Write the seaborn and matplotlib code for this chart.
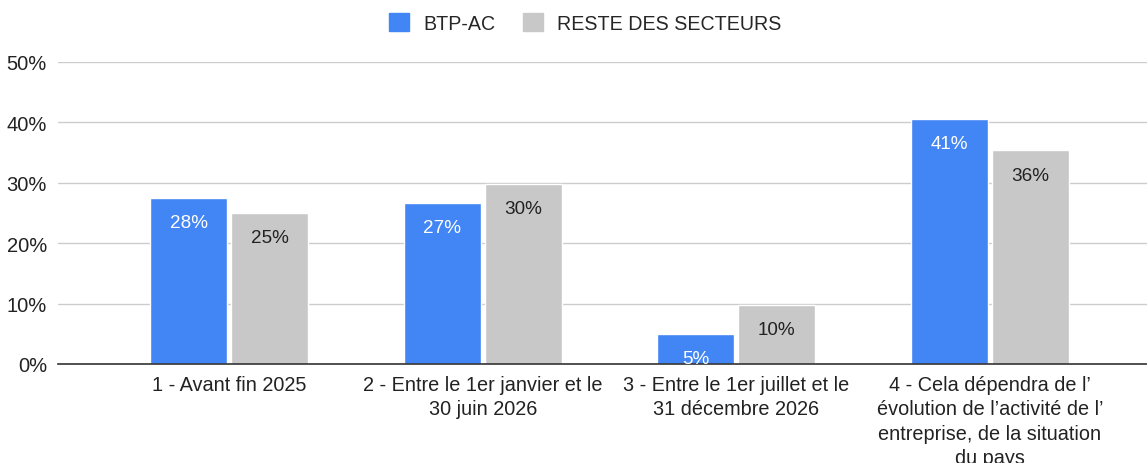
import pandas as pd
import matplotlib.pyplot as plt
import seaborn as sns

# DATA
categories = [
    "1 - Avant fin 2025",
    "2 - Entre le 1er janvier et le\n30 juin 2026",
    "3 - Entre le 1er juillet et le\n31 décembre 2026",
    "4 - Cela dépendra de l\u2019\névolution de l\u2019activité de l\u2019\nentreprise, de la situation\ndu pays",
]
series = ["BTP-AC", "RESTE DES SECTEURS"]
btp_values = [27.5, 26.7, 5.0, 40.6]
reste_values = [25.0, 29.8, 9.8, 35.4]
btp_labels = ["28%", "27%", "5%", "41%"]
reste_labels = ["25%", "30%", "10%", "36%"]
yticks = [0, 10, 20, 30, 40, 50]

df = pd.DataFrame({
    "cat": categories * 2,
    "serie": [series[0]] * 4 + [series[1]] * 4,
    "val": btp_values + reste_values,
})

sns.set_style("white")
plt.rcParams['font.family'] = ['Liberation Sans', 'DejaVu Sans']

fig = plt.figure(figsize=(11.47, 4.64), dpi=100)
ax = fig.add_axes([58 / 1147, 1 - 365 / 464, 1 - 58 / 1147, 302 / 464])

palette = {series[0]: "#4285F4", series[1]: "#C8C8C8"}
sns.barplot(data=df, x="cat", y="val", hue="serie", palette=palette,
            width=0.64, gap=0.05, ax=ax, legend=False, saturation=1)

ax.set_ylim(0, 50)
ax.set_xlim(-0.675, 3.62)
ax.set_yticks(yticks)
ax.set_yticklabels([f"{t}%" for t in yticks], fontsize=14.5, color="#222222")
ax.tick_params(axis="x", labelsize=14.3, colors="#222222", length=0, pad=8)
ax.tick_params(axis="y", length=0, pad=8)
for lab in ax.get_xticklabels():
    lab.set_linespacing(1.35)
ax.set_xlabel("")
ax.set_ylabel("")
ax.grid(axis="y", color="#CCCCCC", linewidth=1)
ax.set_axisbelow(True)
for s in ["top", "right", "left"]:
    ax.spines[s].set_visible(False)
ax.spines["bottom"].set_color("#333333")
ax.spines["bottom"].set_linewidth(1.2)

# data labels inside the bar tops
for cont, labels, col in zip(ax.containers, [btp_labels, reste_labels], ["white", "#222222"]):
    ax.bar_label(cont, labels=labels, padding=-24, color=col, fontsize=13.6)

# legend at top centre
handles = [plt.Rectangle((0, 0), 1, 1, color=palette[s]) for s in series]
fig.legend(handles, series, loc="upper center", bbox_to_anchor=(0.51, 1.008), ncol=2,
           frameon=False, fontsize=14.1, handlelength=1.05, handleheight=1.05,
           columnspacing=1.4, handletextpad=0.7)

fig.savefig("out.png", dpi=100)
